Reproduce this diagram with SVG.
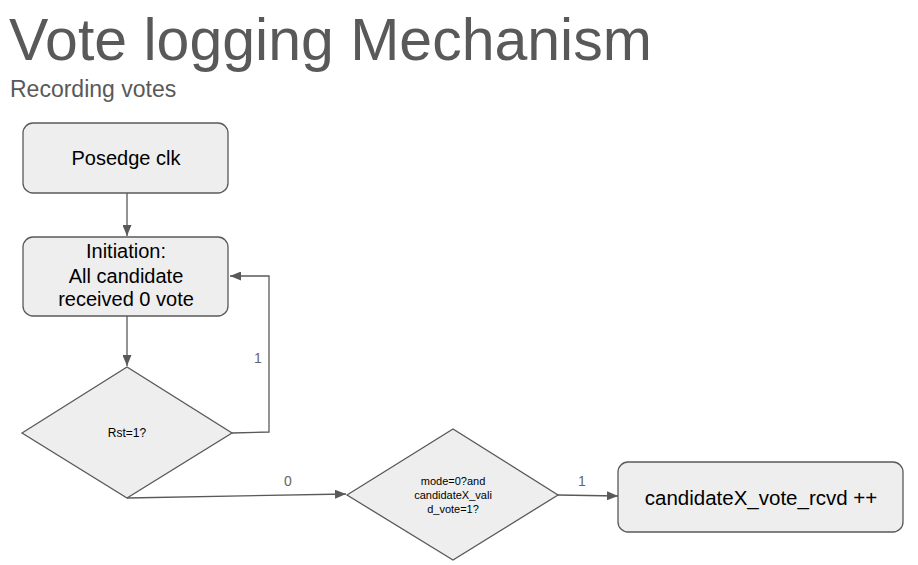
<svg xmlns="http://www.w3.org/2000/svg" width="918" height="565" viewBox="0 0 918 565">
<style>
.box{fill:#eeeeee;stroke:#595959;stroke-width:1.3}
.con{fill:none;stroke:#595959;stroke-width:1.3}
.t{font-family:"Liberation Sans",Arial,sans-serif;fill:#000;text-anchor:middle}
.lbl{font-family:"Liberation Sans",Arial,sans-serif;fill:#666666;font-size:14px;text-anchor:middle}
.hdr{font-family:"Liberation Sans",Arial,sans-serif;fill:#595959}
</style>
<defs>
<marker id="ah" markerWidth="12" markerHeight="9" refX="11" refY="4.5" orient="auto" markerUnits="userSpaceOnUse">
<path d="M0,0 L11,4.5 L0,9 Z" fill="#595959"/>
</marker>
</defs>
<rect width="918" height="565" fill="#ffffff"/>
<text class="hdr" x="9" y="60" font-size="59">Vote logging Mechanism</text>
<text class="hdr" x="10" y="97" font-size="23">Recording votes</text>
<g id="connectors">
<path class="con" d="M127,193 L127,236" marker-end="url(#ah)"/>
<path class="con" d="M127,316 L127,366" marker-end="url(#ah)"/>
<path class="con" d="M232,433 L269,432 L269,276 L230,276" marker-end="url(#ah)"/>
<path class="con" d="M127,498 L346,494" marker-end="url(#ah)"/>
<path class="con" d="M558,495 L618,496" marker-end="url(#ah)"/>
<text class="lbl" x="258" y="363">1</text>
<text class="lbl" x="288" y="486">0</text>
<text class="lbl" x="582" y="486">1</text>
</g>
<g id="posedge">
<rect class="box" x="23" y="123" width="205" height="70" rx="10"/>
<text class="t" x="126" y="165" font-size="20">Posedge clk</text>
</g>
<g id="initiation">
<rect class="box" x="23" y="237" width="205" height="79" rx="10"/>
<text class="t" x="126" y="258" font-size="20">Initiation:</text>
<text class="t" x="126" y="283" font-size="20">All candidate</text>
<text class="t" x="126" y="306" font-size="20">received 0 vote</text>
</g>
<g id="rst">
<path class="box" d="M22,433 L127,367 L232,433 L127,498 Z"/>
<text class="t" x="127" y="437" font-size="12">Rst=1?</text>
</g>
<g id="mode">
<path class="box" d="M347,495 L453,429 L558,495 L453,560 Z"/>
<text class="t" x="453" y="485" font-size="11">mode=0?and</text>
<text class="t" x="453" y="499" font-size="11">candidateX_vali</text>
<text class="t" x="453" y="513" font-size="11">d_vote=1?</text>
</g>
<g id="increment">
<rect class="box" x="618" y="462" width="285" height="70" rx="10"/>
<text class="t" x="761" y="505" font-size="20.5">candidateX_vote_rcvd ++</text>
</g>
</svg>
